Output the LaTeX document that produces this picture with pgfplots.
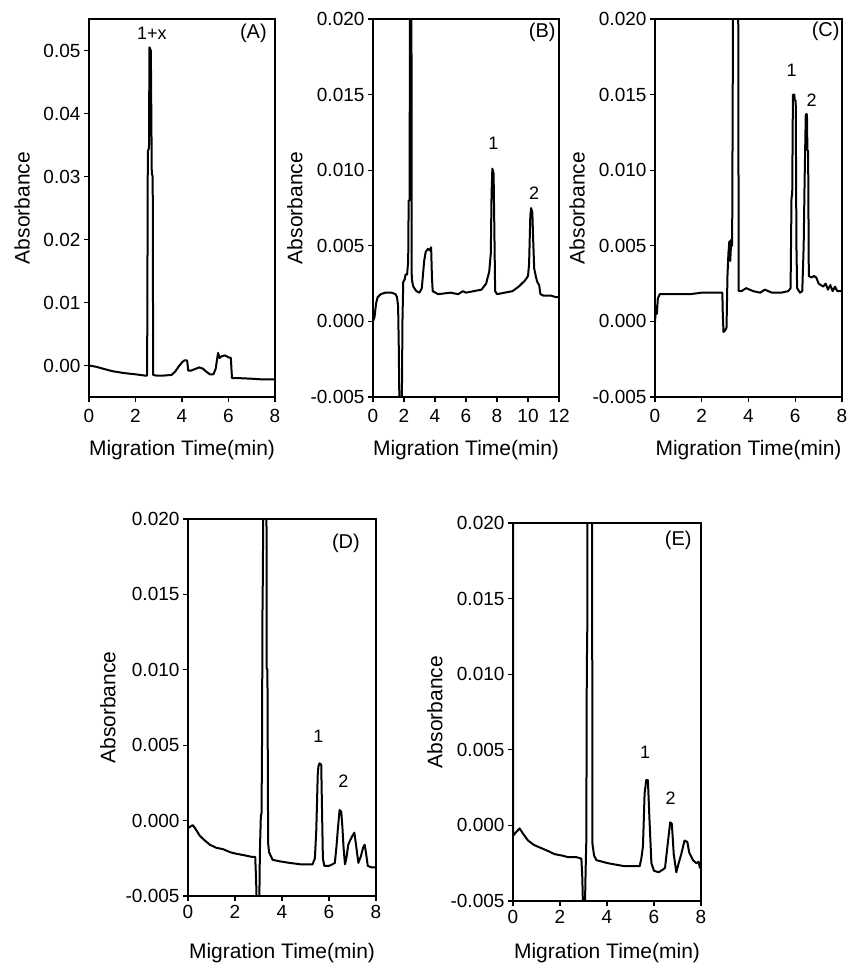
\documentclass[border=0pt]{standalone}
\usepackage{fontspec}
\setmainfont{Liberation Sans}
\usepackage{pgfplots}
\pgfplotsset{compat=1.18}

\pgfplotsset{
  elpanel/.style={
    scale only axis,
    anchor=south west,
    axis line style={black, line width=1.4pt},
    tick align=outside,
    tick pos=left,
    major tick length=5pt,
    tick style={black, line width=1.2pt},
    tick label style={font=\fontsize{19}{21}\selectfont},
    label style={font=\fontsize{21}{24}\selectfont},
    xlabel={Migration Time(min)},
    ylabel={Absorbance},
    xmin=0, xmax=8,
    xtick={0,2,4,6,8},
    xticklabels={0,2,4,6,8},
    ymin=-0.005, ymax=0.020,
    ytick={-0.005,0,0.005,0.010,0.015,0.020},
    yticklabels={-0.005,0.000,0.005,0.010,0.015,0.020},
    scaled x ticks=false,
    scaled y ticks=false,
    clip=true,
  },
  trace/.style={black, line width=2pt, line join=round, mark=none},
}
\newcommand{\pk}{\fontsize{18}{20}\selectfont}
\newcommand{\pn}{\fontsize{20}{22}\selectfont}

\begin{document}
\begin{tikzpicture}
\useasboundingbox (0,0) rectangle (849pt,963pt);

% (A)
\begin{axis}[elpanel,
  at={(89pt,566pt)}, width=186pt, height=378pt,
  ymin=-0.005, ymax=0.055,
  ytick={0,0.01,0.02,0.03,0.04,0.05},
  yticklabels={0.00,0.01,0.02,0.03,0.04,0.05},
  xticklabel shift=4pt,
  xlabel style={at={(axis description cs:0.5,-0.14)}, anchor=center},
  ylabel style={at={(axis description cs:-0.36,0.5)}, anchor=center},
]
\addplot[trace] coordinates {
 (0,0.0000) (0.3,-0.0002) (0.6,-0.0005) (1.0,-0.0009) (1.5,-0.0012) (2.0,-0.0014)
 (2.4,-0.0016) (2.50,-0.0016) (2.53,0.0340) (2.58,0.0345) (2.60,0.0505) (2.66,0.0500)
 (2.70,0.0305) (2.74,0.0300) (2.76,-0.0015) (2.9,-0.0016) (3.2,-0.0016) (3.55,-0.0015)
 (3.7,-0.0010) (3.85,-0.0002) (4.0,0.0005) (4.1,0.0008) (4.22,0.0008) (4.27,-0.0008)
 (4.4,-0.0008) (4.6,-0.0005) (4.75,-0.0003) (4.9,-0.0005) (5.05,-0.0010) (5.2,-0.0014)
 (5.35,-0.0014) (5.45,-0.0005) (5.55,0.0020) (5.62,0.0012) (5.72,0.0015) (5.85,0.0016)
 (6.0,0.0013) (6.1,0.0012) (6.15,-0.0020) (6.4,-0.0020) (7.0,-0.0021) (7.4,-0.0022)
 (8.0,-0.0022)
};
\node[font=\pk] at (axis cs:2.70,0.0528) {1+x};
\node[font=\pn] at (axis cs:7.07,0.0528) {(A)};
\end{axis}

% (B)
\begin{axis}[elpanel,
  at={(373pt,566pt)}, width=186pt, height=378pt,
  xmax=12, xtick={0,2,4,6,8,10,12}, xticklabels={0,2,4,6,8,10,12},
  xticklabel shift=4pt,
  xlabel style={at={(axis description cs:0.5,-0.14)}, anchor=center},
  ylabel style={at={(axis description cs:-0.42,0.5)}, anchor=center},
]
\addplot[trace] coordinates {
 (0,0.0000) (0.1,0.0003) (0.2,0.0012) (0.3,0.0016) (0.5,0.0018) (0.8,0.0019)
 (1.2,0.0019) (1.45,0.0018) (1.55,0.0016) (1.62,0.0010) (1.66,-0.0015) (1.72,-0.0070)
 (1.85,-0.0070) (1.9,0.0000) (1.95,0.0026) (2.05,0.0028) (2.1,0.0031) (2.2,0.0031)
 (2.27,0.0040) (2.3,0.0080) (2.36,0.0080) (2.40,0.0300) (2.47,0.0300) (2.50,0.0028)
 (2.6,0.0023) (2.8,0.0020) (3.0,0.0019) (3.15,0.0022) (3.3,0.0040) (3.4,0.0046)
 (3.55,0.0048) (3.65,0.0047) (3.75,0.0049) (3.8,0.0030) (3.85,0.0020) (4.2,0.0018)
 (5.0,0.0019) (5.5,0.0018) (5.8,0.0020) (6.0,0.0019) (6.5,0.0020) (7.0,0.0021)
 (7.3,0.0025) (7.5,0.0033) (7.6,0.0045) (7.65,0.0085) (7.70,0.0101) (7.78,0.0098)
 (7.83,0.0060) (7.88,0.0020) (8.0,0.0018) (8.5,0.0019) (9.0,0.0020) (9.4,0.0023)
 (9.8,0.0027) (10.0,0.0030) (10.07,0.0038) (10.15,0.0070) (10.2,0.0075) (10.28,0.0072)
 (10.33,0.0055) (10.4,0.0035) (10.5,0.0030) (10.6,0.0026) (10.72,0.0024) (10.8,0.0018)
 (11.0,0.0017) (11.5,0.0017) (11.8,0.0016) (12.0,0.0016)
};
\node[font=\pk] at (axis cs:7.76,0.0118) {1};
\node[font=\pk] at (axis cs:10.39,0.0085) {2};
\node[font=\pn] at (axis cs:10.92,0.0191) {(B)};
\end{axis}

% (C)
\begin{axis}[elpanel,
  at={(655pt,566pt)}, width=187pt, height=378pt,
  xticklabel shift=4pt,
  xlabel style={at={(axis description cs:0.5,-0.14)}, anchor=center},
  ylabel style={at={(axis description cs:-0.417,0.5)}, anchor=center},
]
\addplot[trace] coordinates {
 (0,0.0000) (0.05,0.0010) (0.08,0.0005) (0.12,0.0015) (0.2,0.0018) (0.5,0.0018)
 (1.0,0.0018) (1.5,0.0018) (2.0,0.0019) (2.5,0.0019) (2.88,0.0019) (2.90,0.0005)
 (2.93,-0.0007) (3.0,-0.0006) (3.06,-0.0004) (3.1,0.0030) (3.14,0.0045) (3.18,0.0053)
 (3.22,0.0040) (3.26,0.0054) (3.30,0.0050) (3.32,0.0133) (3.36,0.0300) (3.55,0.0300)
 (3.58,0.0020) (3.7,0.0020) (3.9,0.0022) (4.2,0.0020) (4.5,0.0019) (4.7,0.0021)
 (5.0,0.0019) (5.4,0.0019) (5.7,0.0020) (5.8,0.0022) (5.84,0.0082) (5.87,0.0084)
 (5.90,0.0150) (5.96,0.0150) (5.98,0.0146) (6.02,0.0146) (6.05,0.0050) (6.08,0.0022)
 (6.2,0.0019) (6.3,0.0020) (6.36,0.0050) (6.40,0.0093) (6.45,0.0137) (6.50,0.0137)
 (6.52,0.0113) (6.55,0.0113) (6.58,0.0030) (6.7,0.0029) (6.8,0.0030) (6.9,0.0029)
 (7.0,0.0025) (7.2,0.0023) (7.3,0.0025) (7.4,0.0021) (7.5,0.0024) (7.6,0.0020)
 (7.7,0.0023) (7.8,0.0020) (8.0,0.0020)
};
\node[font=\pk] at (axis cs:5.85,0.0166) {1};
\node[font=\pk] at (axis cs:6.70,0.0146) {2};
\node[font=\pn] at (axis cs:7.30,0.0192) {(C)};
\end{axis}

% (D)
\begin{axis}[elpanel,
  at={(188pt,67pt)}, width=188pt, height=377pt,
  xticklabel shift=1pt,
  xlabel style={at={(axis description cs:0.5,-0.151)}, anchor=center},
  ylabel style={at={(axis description cs:-0.426,0.5)}, anchor=center},
]
\addplot[trace] coordinates {
 (0,-0.0005) (0.1,-0.0004) (0.2,-0.0003) (0.3,-0.0005) (0.5,-0.0010) (0.7,-0.0013)
 (0.93,-0.0016) (1.2,-0.0018) (1.5,-0.0019) (1.8,-0.0021) (2.06,-0.0022) (2.4,-0.0023)
 (2.7,-0.0024) (2.86,-0.0024) (2.9,-0.0040) (2.93,-0.0060) (3.03,-0.0060) (3.06,-0.0020)
 (3.10,0.0003) (3.13,0.0005) (3.15,0.0052) (3.17,0.0139) (3.19,0.0169) (3.21,0.0300)
 (3.33,0.0300) (3.35,0.0101) (3.38,0.0100) (3.41,-0.0015) (3.45,-0.0021) (3.6,-0.0026)
 (3.9,-0.0027) (4.3,-0.0028) (4.8,-0.0029) (5.3,-0.0029) (5.4,-0.0025) (5.46,-0.0006)
 (5.52,0.0030) (5.55,0.0036) (5.6,0.0038) (5.67,0.0037) (5.70,0.0010) (5.74,-0.0025)
 (5.8,-0.0030) (6.0,-0.0030) (6.15,-0.0029) (6.25,-0.0028) (6.32,-0.0017) (6.38,-0.0005)
 (6.45,0.0007) (6.52,0.0006) (6.57,-0.0004) (6.62,-0.0018) (6.68,-0.0029) (6.74,-0.0025)
 (6.82,-0.0016) (6.9,-0.0013) (7.0,-0.0010) (7.08,-0.0008) (7.15,-0.0016) (7.25,-0.0028)
 (7.35,-0.0024) (7.45,-0.0018) (7.52,-0.0016) (7.58,-0.0022) (7.65,-0.0030) (7.8,-0.0031)
 (8.0,-0.0031)
};
\node[font=\pk] at (axis cs:5.55,0.00557) {1};
\node[font=\pk] at (axis cs:6.61,0.00259) {2};
\node[font=\pn] at (axis cs:6.72,0.0184) {(D)};
\end{axis}

% (E)
\begin{axis}[elpanel,
  at={(513pt,62pt)}, width=188pt, height=378pt,
  xticklabel shift=1pt,
  xlabel style={at={(axis description cs:0.5,-0.138)}, anchor=center},
  ylabel style={at={(axis description cs:-0.415,0.5)}, anchor=center},
]
\addplot[trace] coordinates {
 (0,0.0300) (0,-0.0007) (0.1,-0.0005) (0.28,-0.0002) (0.45,-0.0006) (0.64,-0.0010)
 (0.9,-0.0013) (1.2,-0.0015) (1.5,-0.0017) (1.77,-0.0019) (2.1,-0.0020) (2.34,-0.0021)
 (2.7,-0.0021) (2.91,-0.0022) (2.95,-0.0035) (2.98,-0.0055) (3.06,-0.0055) (3.09,-0.0030)
 (3.12,-0.0010) (3.14,0.0101) (3.16,0.0129) (3.18,0.0300) (3.36,0.0300) (3.38,-0.0012)
 (3.45,-0.0020) (3.55,-0.0023) (4.04,-0.0025) (4.75,-0.0027) (5.2,-0.0027) (5.39,-0.0027)
 (5.46,-0.0022) (5.53,-0.0014) (5.6,0.0021) (5.67,0.0030) (5.74,0.0030) (5.81,0.0003)
 (5.89,-0.0025) (6.0,-0.0030) (6.2,-0.0031) (6.4,-0.0029) (6.47,-0.0028) (6.6,-0.0010)
 (6.69,0.0002) (6.76,0.0001) (6.84,-0.0019) (6.95,-0.0031) (7.05,-0.0025) (7.16,-0.0019)
 (7.3,-0.0010) (7.42,-0.0011) (7.5,-0.0018) (7.66,-0.0023) (7.8,-0.0025) (7.9,-0.0024)
 (7.95,-0.0028) (8.0,-0.0026)
};
\node[font=\pk] at (axis cs:5.62,0.00485) {1};
\node[font=\pk] at (axis cs:6.71,0.00177) {2};
\node[font=\pn] at (axis cs:7.03,0.01885) {(E)};
\end{axis}
\end{tikzpicture}
\end{document}
